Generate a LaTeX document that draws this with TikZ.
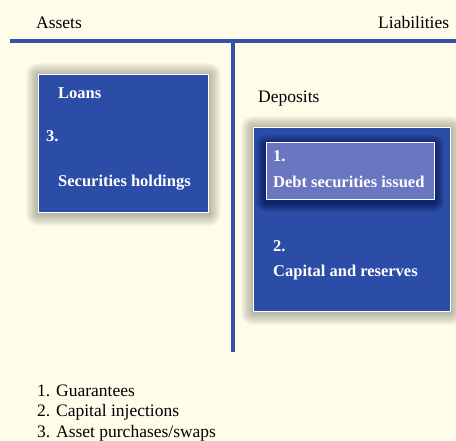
\documentclass[tikz,border=0pt]{standalone}
\usepackage{fontspec}
\setmainfont{Liberation Serif}
\usetikzlibrary{positioning}
\usepackage{xcolor}

\definecolor{paper}{HTML}{FFFDE9}
\definecolor{bankblue}{HTML}{2B4DA7}
\definecolor{paleblue}{HTML}{6A76BF}
\definecolor{axisblue}{HTML}{3352A8}
\definecolor{haze}{HTML}{4A4838}
\definecolor{navyhaze}{HTML}{000A40}

\pgfdeclarelayer{background}
\pgfsetlayers{background,main}

% soft shadow behind a node: node, colour, spread, drop
\newcommand{\softshade}[4]{%
    \foreach \r in {1,...,#3} {
        \fill [#2, opacity=0.035, rounded corners=\r pt]
            ([xshift=-\r pt, yshift=\r pt-#4]#1.north west) rectangle
            ([xshift=\r pt, yshift=-\r pt-#4]#1.south east);
    }%
}

\begin{document}
\begin{tikzpicture}[
        x=1pt, y=-1pt,
        panel/.style={
            rectangle,
            draw=white,
            line width=0.8pt,
            fill=bankblue,
            anchor=north west,
            inner sep=0pt
        },
        subpanel/.style={panel, fill=paleblue},
        plain/.style={anchor=base west, inner sep=0pt, font=\fontsize{17.5}{20}\selectfont},
        boxtext/.style={anchor=base west, inner sep=0pt, text=white,
            font=\bfseries\fontsize{16.5}{20}\selectfont},
        axis/.style={axisblue, line width=4pt}
    ]

    % --- CANVAS ---
    \begin{pgfonlayer}{background}
        \fill [paper] (0,0) rectangle (456,441);
    \end{pgfonlayer}
    \useasboundingbox (0,0) rectangle (456,441);

    % --- T ACCOUNT ---
    \coordinate (hl) at (10,41);
    \coordinate (hr) at (456,41);
    \coordinate (vt) at (233,41);
    \coordinate (vb) at (233,352);
    \draw [axis] (hl) -- (hr);
    \draw [axis] (vt) -- (vb);

    \node (assets) [plain] at (36,29) {Assets};
    \node (liab) [plain] at (378,29) {Liabilities};

    % --- ASSETS SIDE ---
    \node (left) [panel, minimum width=170pt, minimum height=138pt] at (38,74) {};
    \begin{pgfonlayer}{background}
        \softshade{left}{haze}{12}{1pt}
    \end{pgfonlayer}
    \node (loans) [boxtext] at (58,99) {Loans};
    \node (three) [boxtext] at (46,142) {3.};
    \node (secs) [boxtext] at (58,187) {Securities holdings};

    % --- LIABILITIES SIDE ---
    \node (deposits) [plain] at (258,103) {Deposits};
    \node (right) [panel, minimum width=197pt, minimum height=184pt] at (253,127) {};
    \begin{pgfonlayer}{background}
        \softshade{right}{haze}{12}{1pt}
    \end{pgfonlayer}
    \begin{scope}
        \clip (right.north west) rectangle (right.south east);
        \path (266,142) coordinate (innernw) (434,199) coordinate (innerse);
        \foreach \r in {1,...,10} {
            \fill [navyhaze, opacity=0.08, rounded corners=\r pt]
                ([xshift=-\r pt, yshift=\r pt-3pt]innernw) rectangle
                ([xshift=\r pt, yshift=-\r pt-3pt]innerse);
        }
    \end{scope}
    \node (inner) [subpanel, minimum width=168pt, minimum height=57pt] at (266,142) {};
    \node (one) [boxtext] at (273,162) {1.};
    \node (debt) [boxtext] at (273,188) {Debt securities issued};
    \node (two) [boxtext] at (273,252) {2.};
    \node (capital) [boxtext] at (273,277) {Capital and reserves};

    % --- LEGEND ---
    \node (leg1) [plain] at (37,396) {1. Guarantees};
    \node (leg2) [plain] at (37,416.5) {2. Capital injections};
    \node (leg3) [plain] at (37,437) {3. Asset purchases/swaps};

\end{tikzpicture}
\end{document}
